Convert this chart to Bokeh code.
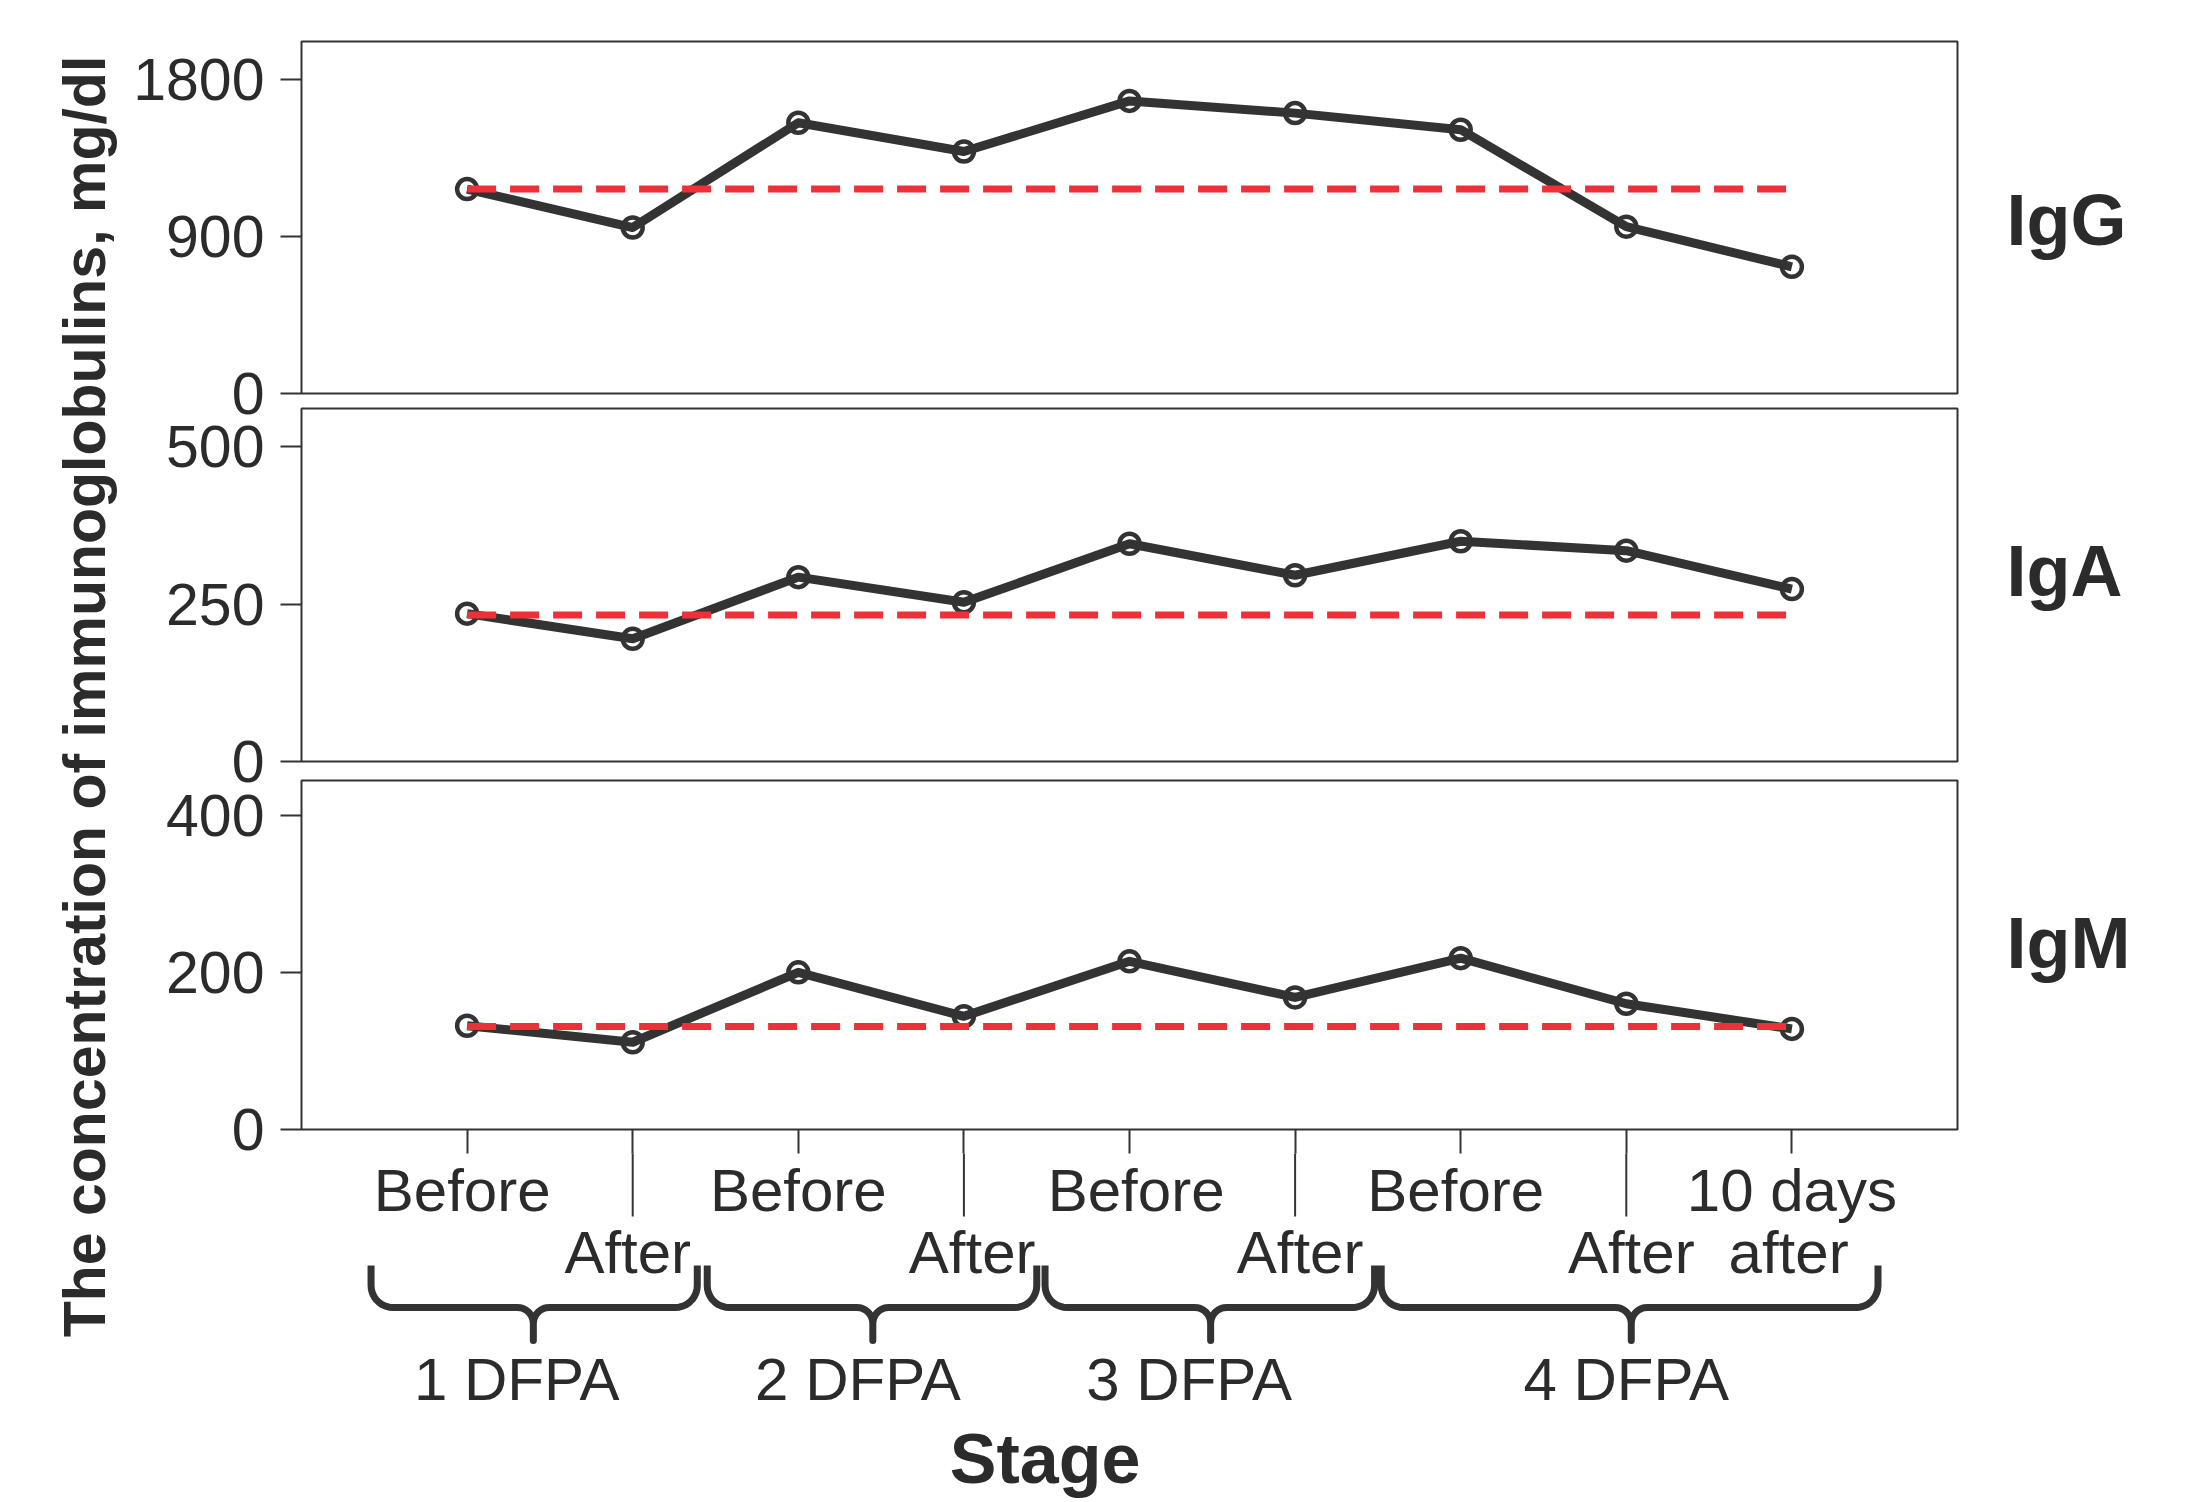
import numpy as np
from bokeh.plotting import figure
from bokeh.layouts import row, column
from bokeh.models import Range1d, FixedTicker
from bokeh.core.properties import value
from bokeh.embed import file_html
from bokeh.resources import INLINE

# ---------------- data ----------------
stage_x = [1, 2, 3, 4, 5, 6, 7, 8, 9]
igg = [1170, 950, 1550, 1385, 1675, 1605, 1510, 955, 725]
iga = [235, 195, 293, 253, 346, 296, 350, 335, 274]
igm = [132, 111, 200, 144, 214, 168, 218, 160, 128]
igg_ref = 1170
iga_ref = 233
igm_ref = 131

panel_names = ["IgG", "IgA", "IgM"]
y_ticks = [[0, 900, 1800], [0, 250, 500], [0, 200, 400]]
y_tops = [2015, 561, 444]
name_y = [837, 259, 202]          # baseline of the side labels, data units

# stage labels (two staggered rows under the axis)
top_row_text = ["Before", "Before", "Before", "Before", "10 days"]
top_row_x = [0.97, 3.0, 5.04, 6.97, 9.0]
bottom_row_text = ["After", "After", "After", "After", "after"]
bottom_row_x = [1.97, 4.05, 6.03, 8.03, 8.98]

groups = ["1 DFPA", "2 DFPA", "3 DFPA", "4 DFPA"]
group_x = [1.30, 3.36, 5.36, 8.0]
brace_left = [0.42, 2.45, 4.49, 6.52]
brace_right = [2.39, 4.44, 6.48, 9.52]
brace_tip = [1.40, 3.45, 5.49, 8.03]

y_title = "The concentration of immunoglobulins, mg/dl"
x_title = "Stage"

# ---------------- style ----------------
FONT_NAME = "Liberation Sans"
FONT = value(FONT_NAME)
INK = "#2b2b2b"
LINE = "#333333"
RED = "#ee3039"
BASE_K = 0.385      # shift that puts a text glyph's alphabetic baseline where asked
TITLE_W = 120
LEFT = 181
FRAME_W = 1656
PANEL_W = LEFT + FRAME_W + 4
NAME_W = 2198 - TITLE_W - PANEL_W
FIG_W = 2198 - TITLE_W

x_range = Range1d(0, 10)

def clean(p):
    p.background_fill_color = None
    p.border_fill_color = None
    p.xgrid.grid_line_color = None
    p.ygrid.grid_line_color = None

def panel(i, vals, ref, height, top, bottom, with_x, tick_len=24):
    yr = Range1d(0, y_tops[i])
    p = figure(width=PANEL_W, height=height, x_range=x_range, y_range=yr,
               output_backend="svg", toolbar_location=None,
               x_axis_location="below" if with_x else None,
               y_axis_location="left",
               min_border_left=LEFT, min_border_right=4,
               min_border_top=top, min_border_bottom=bottom)
    clean(p)
    p.outline_line_color = LINE
    p.outline_line_width = 2
    ax = p.yaxis[0]
    ax.ticker = FixedTicker(ticks=y_ticks[i])
    ax.major_tick_out = 21
    ax.major_tick_in = 0
    ax.minor_tick_out = 0
    ax.minor_tick_in = 0
    ax.major_tick_line_color = LINE
    ax.major_tick_line_width = 2
    ax.axis_line_color = None
    ax.major_label_standoff = 16
    ax.major_label_text_font = FONT_NAME
    ax.major_label_text_font_size = "59px"
    ax.major_label_text_color = INK
    if with_x:
        xa = p.xaxis[0]
        xa.ticker = FixedTicker(ticks=stage_x)
        xa.major_tick_out = tick_len
        xa.major_tick_in = 0
        xa.minor_tick_out = 0
        xa.minor_tick_in = 0
        xa.major_tick_line_color = LINE
        xa.major_tick_line_width = 2
        xa.axis_line_color = None
        xa.major_label_standoff = 0
        xa.major_label_text_font_size = "0px"
        xa.major_label_overrides = {k: "" for k in stage_x}
    p.line(stage_x, vals, line_width=9, line_color=LINE, line_join="round")
    p.scatter(stage_x, vals, size=20, marker="circle", fill_color=None,
              line_color=LINE, line_width=4.5)
    p.line([stage_x[0], stage_x[-1]], [ref, ref], line_width=7,
           line_color=RED, line_dash="29 14")

    # side label (IgG / IgA / IgM) in a narrow companion figure
    q = figure(width=NAME_W, height=height, x_range=Range1d(0, NAME_W),
               y_range=yr, output_backend="svg", toolbar_location=None,
               x_axis_location=None, y_axis_location=None,
               min_border_left=0, min_border_right=0,
               min_border_top=top, min_border_bottom=bottom)
    clean(q)
    q.outline_line_color = None
    frame_h = height - top - bottom
    fs = 72
    shift = BASE_K * fs * y_tops[i] / frame_h
    q.text(x=[2006 - (TITLE_W + PANEL_W)], y=[name_y[i] + shift],
           text=[panel_names[i]], text_font=FONT, text_font_size=f"{fs}px",
           text_font_style="bold", text_color=INK, text_align="left",
           text_baseline="alphabetic")
    return row(p, q)

r1 = panel(0, igg, igg_ref, 440, 41, 47, False)
r2 = panel(1, iga, iga_ref, 408, 8, 47, False)
r3 = panel(2, igm, igm_ref, 397, 8, 40, True, tick_len=24)
r2.margin = (-40, 0, 0, 0)
r3.margin = (-36, 0, 0, 0)

# ---------------- bottom annotations ----------------
B_TOP = 1153
fb = figure(width=FIG_W, height=1502 - B_TOP, x_range=x_range,
            y_range=Range1d(1502, B_TOP), output_backend="svg",
            toolbar_location=None, x_axis_location=None, y_axis_location=None,
            min_border_left=LEFT, min_border_right=FIG_W - LEFT - FRAME_W,
            min_border_top=0, min_border_bottom=0)
clean(fb)
fb.outline_line_color = None
fb.margin = (-16, 0, 0, 0)

long_x = [x for x in stage_x if x % 2 == 0]
fb.segment(x0=long_x, y0=[B_TOP - 5] * len(long_x), x1=long_x,
           y1=[1216] * len(long_x), line_color=LINE, line_width=2)

def base(px, fs):
    return px - BASE_K * fs

fb.text(x=top_row_x, y=[base(1213, 60)] * len(top_row_x), text=top_row_text,
        text_font=FONT, text_font_size="60px", text_color=INK,
        text_align="center", text_baseline="alphabetic")
fb.text(x=bottom_row_x, y=[base(1275, 60)] * len(bottom_row_x),
        text=bottom_row_text, text_font=FONT, text_font_size="60px",
        text_color=INK, text_align="center", text_baseline="alphabetic")

XS = FRAME_W / 10.0
def brace_path(xl, xr, xt, ytop=1265, ybar=1307, ytip=1340, r=22, r2=16):
    rx = r / XS
    rx2 = r2 / XS
    xs, ys = [xl], [ytop]
    th = np.linspace(np.pi, np.pi / 2, 10)
    xs += list(xl + rx + rx * np.cos(th)); ys += list(ybar - r + r * np.sin(th))
    th = np.linspace(-np.pi / 2, 0, 10)
    xs += list(xt - rx2 + rx2 * np.cos(th)); ys += list(ybar + r2 + r2 * np.sin(th))
    xs += [xt, xt]; ys += [ytip, ybar + r2]
    th = np.linspace(np.pi, 3 * np.pi / 2, 10)
    xs += list(xt + rx2 + rx2 * np.cos(th)); ys += list(ybar + r2 + r2 * np.sin(th))
    th = np.linspace(np.pi / 2, 0, 10)
    xs += list(xr - rx + rx * np.cos(th)); ys += list(ybar - r + r * np.sin(th))
    xs += [xr]; ys += [ytop]
    return [float(v) for v in xs], [float(v) for v in ys]

bx, by = [], []
for xl, xr, xt in zip(brace_left, brace_right, brace_tip):
    a, b = brace_path(xl, xr, xt)
    bx.append(a); by.append(b)
fb.multi_line(bx, by, line_color=LINE, line_width=7, line_join="round",
              line_cap="butt")

fb.text(x=group_x, y=[base(1402, 60)] * len(group_x), text=groups,
        text_font=FONT, text_font_size="60px", text_color=INK,
        text_align="center", text_baseline="alphabetic")
fb.text(x=[4.49], y=[base(1485, 70)], text=[x_title], text_font=FONT,
        text_font_size="70px", text_font_style="bold", text_color=INK,
        text_align="center", text_baseline="alphabetic")

# ---------------- y title ----------------
ft = figure(width=TITLE_W, height=1502, x_range=Range1d(0, TITLE_W),
            y_range=Range1d(1502, 0), output_backend="svg",
            toolbar_location=None, x_axis_location=None, y_axis_location=None,
            min_border_left=0, min_border_right=0, min_border_top=0,
            min_border_bottom=0)
clean(ft)
ft.outline_line_color = None
ft.text(x=[107 - BASE_K * 59], y=[696], text=[y_title], angle=np.pi / 2,
        text_font=FONT, text_font_size="59px", text_font_style="bold",
        text_color=INK, text_align="center", text_baseline="alphabetic")

layout = row(ft, column(r1, r2, r3, fb))
open("out.html", "w").write(file_html(layout, INLINE))
